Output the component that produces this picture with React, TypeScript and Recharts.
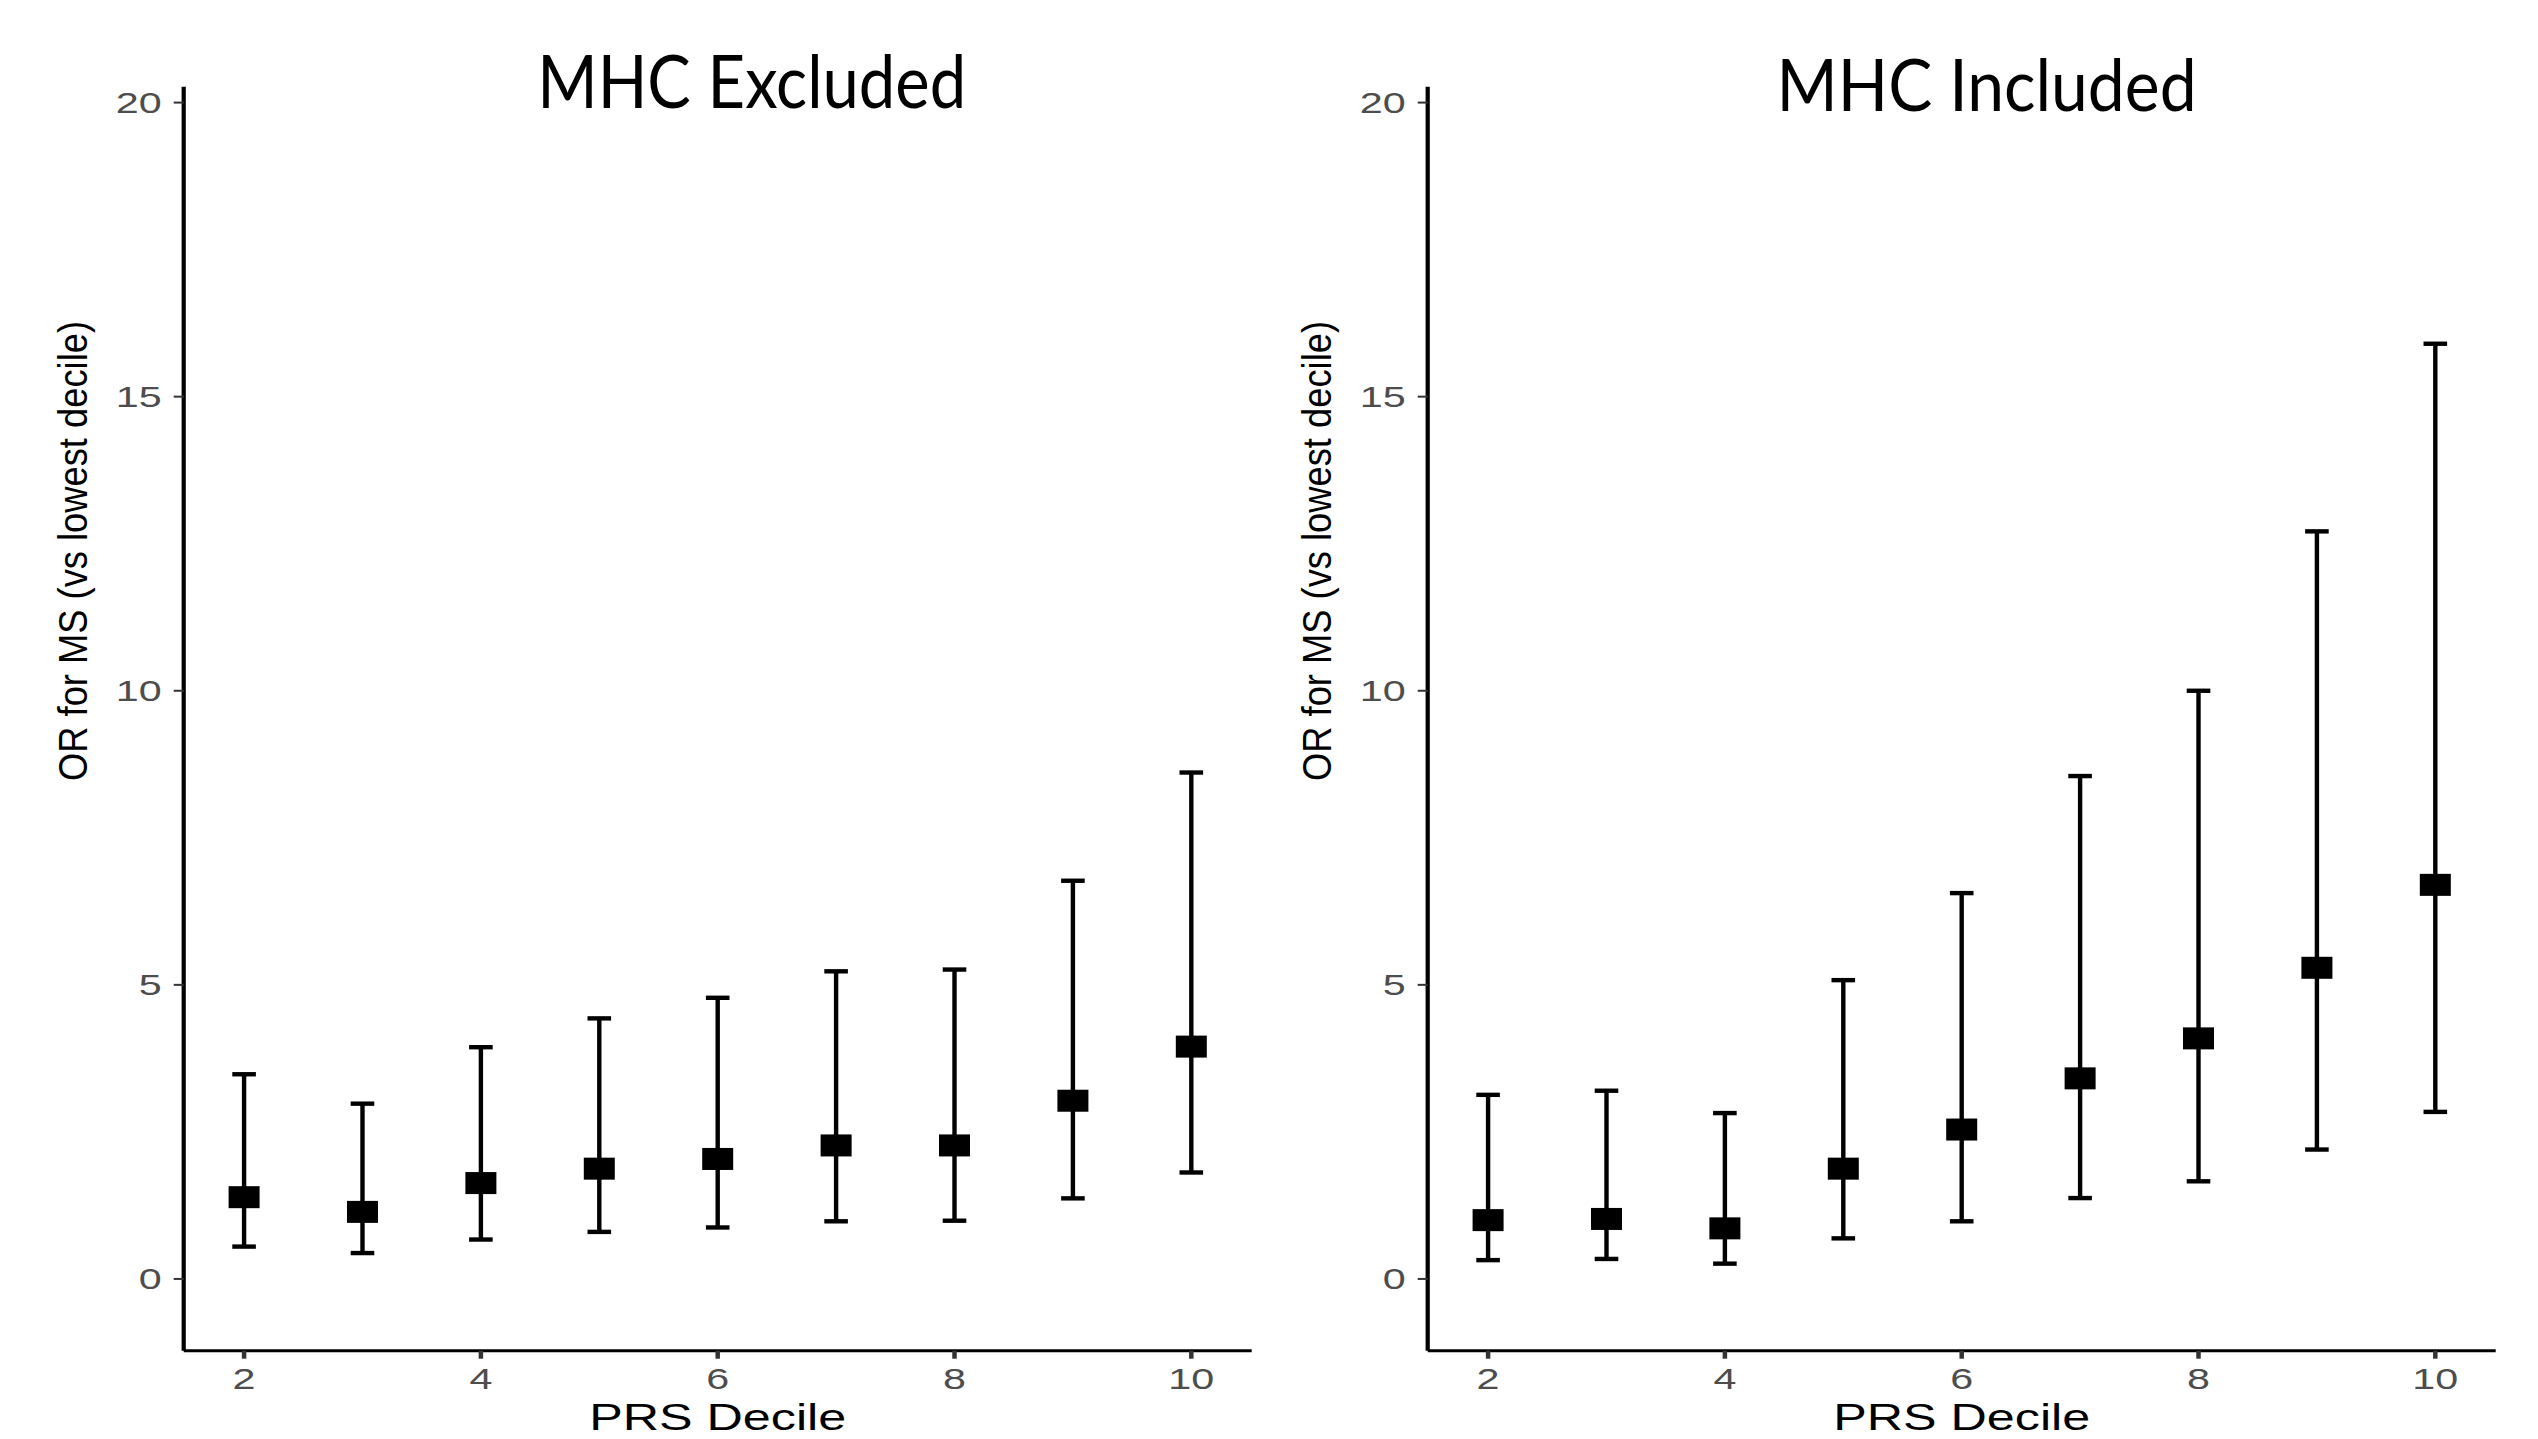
import React from 'react';
import { ScatterChart, Scatter, XAxis, YAxis, ErrorBar } from 'recharts';

// ---- data ----
const deciles = [2, 3, 4, 5, 6, 7, 8, 9, 10];
const xTicks = [2, 4, 6, 8, 10];
const yTicks = [0, 5, 10, 15, 20];

const excludedOR = [1.39, 1.14, 1.63, 1.875, 2.04, 2.27, 2.27, 3.03, 3.95];
const excludedLower = [0.55, 0.44, 0.67, 0.8, 0.875, 0.98, 0.99, 1.37, 1.81];
const excludedUpper = [3.48, 2.98, 3.94, 4.43, 4.78, 5.23, 5.26, 6.77, 8.61];

const includedOR = [1.0, 1.02, 0.86, 1.875, 2.54, 3.41, 4.09, 5.29, 6.7];
const includedLower = [0.32, 0.34, 0.26, 0.69, 0.98, 1.375, 1.66, 2.2, 2.84];
const includedUpper = [3.13, 3.2, 2.82, 5.08, 6.56, 8.55, 10.0, 12.71, 15.9];

const panelTitles = ['MHC Excluded', 'MHC Included'];
const xTitle = 'PRS Decile';
const yTitle = 'OR for MS (vs lowest decile)';

const build = (or: number[], lo: number[], hi: number[]) =>
  deciles.map((d, i) => ({ decile: d, or: or[i], err: [or[i] - lo[i], hi[i] - or[i]] }));

const excludedData = build(excludedOR, excludedLower, excludedUpper);
const includedData = build(includedOR, includedLower, includedUpper);

// ---- layout ----
const CHART_W = 1269;
const CHART_H = 1439;
const PLOT_LEFT = 183.7;
const PLOT_RIGHT = 1251.7;
const PLOT_TOP = 86.7;
const PLOT_BOTTOM = 1350.7;
const SX = 1.4;
const FONT = '"Liberation Sans", Arial, Helvetica, sans-serif';

const YTick = (props: any) => {
  const { x, y, payload } = props;
  return (
    <g transform={`translate(${x},${y}) scale(${SX},1)`}>
      <text x={0} y={0} dy={10.5} textAnchor="end" fill="#4d4d4d" fontSize={29.5} fontFamily={FONT}>
        {payload.value}
      </text>
    </g>
  );
};

const XTick = (props: any) => {
  const { x, y, payload } = props;
  return (
    <g transform={`translate(${x},${y}) scale(${SX},1)`}>
      <text x={0} y={0} dy={30.3} textAnchor="middle" fill="#4d4d4d" fontSize={29.5} fontFamily={FONT}>
        {payload.value}
      </text>
    </g>
  );
};

const XTitle = (props: any) => {
  const vb = props.viewBox || {};
  const cx = (vb.x ?? PLOT_LEFT) + (vb.width ?? PLOT_RIGHT - PLOT_LEFT) / 2;
  const y = (vb.y ?? PLOT_BOTTOM) + 79.3;
  return (
    <text x={cx} y={y} textAnchor="middle" fill="#000" fontSize={37} fontFamily={FONT}
      textLength={257} lengthAdjust="spacingAndGlyphs">
      {xTitle}
    </text>
  );
};

const YTitle = (props: any) => {
  const vb = props.viewBox || {};
  const x = (vb.x ?? 0) + 87;
  const y = (vb.y ?? PLOT_TOP) + 464.3;
  return (
    <text x={x} y={y} transform={`rotate(-90, ${x}, ${y})`} textAnchor="middle" fill="#000"
      fontSize={40} fontFamily={FONT} textLength={460} lengthAdjust="spacingAndGlyphs">
      {yTitle}
    </text>
  );
};

const SquareShape = (props: any) => {
  const { cx, cy } = props;
  if (cx == null || cy == null) return null;
  return <rect x={cx - 15.5} y={cy - 11} width={31} height={22} fill="#000" />;
};

const Panel = ({ data, left }: { data: any[]; left: number }) => (
  <div style={{ position: 'absolute', left, top: 0, width: CHART_W, height: CHART_H }}>
    <ScatterChart
      width={CHART_W}
      height={CHART_H}
      margin={{ top: PLOT_TOP, right: CHART_W - PLOT_RIGHT, bottom: 0, left: 0 }}
    >
      <XAxis
        type="number"
        dataKey="decile"
        domain={[1.49, 10.51]}
        allowDataOverflow
        ticks={xTicks}
        height={CHART_H - PLOT_BOTTOM}
        axisLine={{ stroke: '#000', strokeWidth: 3 }}
        tickLine={{ stroke: '#333', strokeWidth: 4.5 }}
        tickSize={8}
        tickMargin={0}
        tick={<XTick />}
        label={<XTitle />}
      />
      <YAxis
        type="number"
        dataKey="or"
        domain={[-1.22, 20.27]}
        allowDataOverflow
        ticks={yTicks}
        width={PLOT_LEFT}
        axisLine={{ stroke: '#000', strokeWidth: 4.2 }}
        tickLine={{ stroke: '#333', strokeWidth: 2 }}
        tickSize={10}
        tickMargin={12}
        tick={<YTick />}
        label={<YTitle />}
      />
      <Scatter data={data} fill="#000" shape={<SquareShape />} isAnimationActive={false}>
        <ErrorBar dataKey="err" direction="y" width={11.8} stroke="#000" strokeWidth={4.4} />
      </Scatter>
    </ScatterChart>
  </div>
);

export default function App() {
  return (
    <div
      style={{
        position: 'absolute',
        left: 0,
        top: 0,
        width: 2538,
        height: 1439,
        background: '#fff',
        overflow: 'hidden',
      }}
    >
      <Panel data={excludedData} left={0} />
      <Panel data={includedData} left={1244} />
      <svg
        width={2538}
        height={1439}
        style={{ position: 'absolute', left: 0, top: 0, pointerEvents: 'none' }}
      >
        <text x={751.7} y={108.3} textAnchor="middle" fill="#000" fontSize={74}
          fontFamily='Lato, "Open Sans", sans-serif' textLength={429} lengthAdjust="spacingAndGlyphs">
          {panelTitles[0]}
        </text>
        <text x={1986.6} y={111} textAnchor="middle" fill="#000" fontSize={72}
          fontFamily='Lato, "Open Sans", sans-serif' textLength={420} lengthAdjust="spacingAndGlyphs">
          {panelTitles[1]}
        </text>
      </svg>
    </div>
  );
}
